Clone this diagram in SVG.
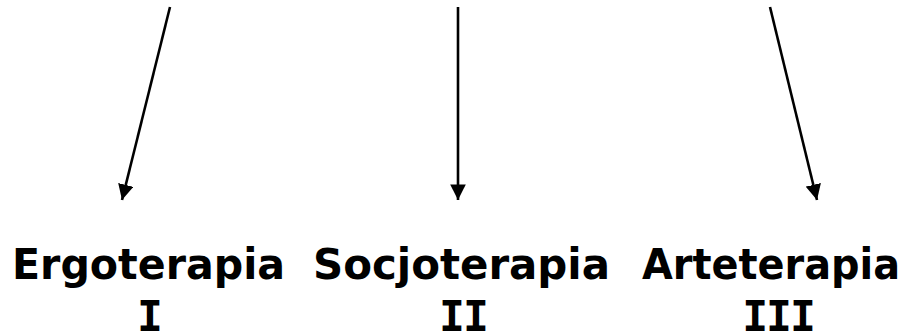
<svg xmlns="http://www.w3.org/2000/svg" width="915" height="336" viewBox="0 0 915 336">
<style>
.lbl{font-family:"DejaVu Sans","Verdana",sans-serif;font-weight:bold;font-size:42px;fill:#000;text-anchor:middle}
.num{font-family:"DejaVu Sans Mono",monospace;font-weight:bold;font-size:43px;fill:#000;text-anchor:middle;letter-spacing:-2px}
.arr{stroke:#000;stroke-width:2.6;fill:none;marker-end:url(#ah)}
</style>
<defs>
<marker id="ah" markerWidth="6" markerHeight="6" refX="6" refY="3" orient="auto" markerUnits="strokeWidth">
<path d="M0,0 L6,3 L0,6 Z" fill="#000"/>
</marker>
</defs>
<rect width="915" height="336" fill="#fff"/>
<g id="connectors">
<line class="arr" x1="170" y1="7" x2="122" y2="200"/>
<line class="arr" x1="458" y1="7" x2="458" y2="200"/>
<line class="arr" x1="770" y1="7" x2="817" y2="200"/>
</g>
<g id="ergoterapia"><text class="lbl" x="148.5" y="279" textLength="273" lengthAdjust="spacingAndGlyphs">Ergoterapia</text><text class="num" x="149" y="331">I</text></g>
<g id="socjoterapia"><text class="lbl" x="461.5" y="279" textLength="297" lengthAdjust="spacingAndGlyphs">Socjoterapia</text><text class="num" x="463" y="331">II</text></g>
<g id="arteterapia"><text class="lbl" x="771" y="279" textLength="258" lengthAdjust="spacingAndGlyphs">Arteterapia</text><text class="num" x="778" y="331">III</text></g>
</svg>
